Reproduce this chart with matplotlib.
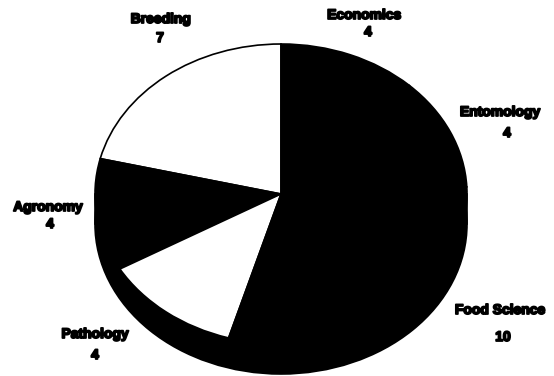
import matplotlib
matplotlib.use("Agg")
import matplotlib.pyplot as plt
import matplotlib.patheffects as pe
from matplotlib.patches import Ellipse, Rectangle

# ------------------------------------------------------------
# Publications by discipline
# ------------------------------------------------------------
disciplines = ["Breeding", "Agronomy", "Pathology", "Food Science", "Entomology", "Economics"]
counts = [7, 4, 4, 10, 4, 4]
fills = ["white", "black", "white", "black", "black", "black"]

# label anchors (pixels from top-left): name line, value line
name_xy = [(161, 19), (48, 207), (95, 334), (500, 310), (500, 112), (364, 15)]
value_xy = [(160, 38), (50, 224), (95, 355), (503, 337), (507, 133), (368, 32)]

W, H = 554, 376
fig = plt.figure(figsize=(W / 100, H / 100), dpi=100)
fig.patch.set_facecolor("white")

# axes spans the top face of the tilted pie; aspect left free so it squashes
cx, cy, a, b = 281, 194, 186, 150
ax = fig.add_axes([(cx - a) / W, 1 - (cy + b) / H, 2 * a / W, 2 * b / H])
depth = 0.2  # thickness of the pie side, in radius units

# side of the pie
ax.add_patch(Ellipse((0, -depth), 2, 2, facecolor="black", edgecolor="black",
                     linewidth=1.2, zorder=0, clip_on=False))
ax.add_patch(Rectangle((-1, -depth), 2, depth, facecolor="black", edgecolor="black",
                       linewidth=1.2, zorder=0, clip_on=False))

ax.pie(counts, colors=fills, startangle=90, counterclock=True, radius=1,
       wedgeprops=dict(edgecolor="black", linewidth=1.2), frame=False)
ax.set_aspect("auto")
ax.set_xlim(-1, 1)
ax.set_ylim(-1, 1)
ax.axis("off")

heavy = [pe.withStroke(linewidth=1.3, foreground="black")]
for name, n, (nx, ny), (vx, vy) in zip(disciplines, counts, name_xy, value_xy):
    fig.text(nx / W, 1 - ny / H, name, ha="center", va="center",
             fontsize=10, fontweight="bold", family="Liberation Sans", path_effects=heavy)
    fig.text(vx / W, 1 - vy / H, str(n), ha="center", va="center",
             fontsize=10, fontweight="bold", family="Liberation Sans", path_effects=heavy)

fig.savefig("out.png", dpi=100, facecolor="white")
